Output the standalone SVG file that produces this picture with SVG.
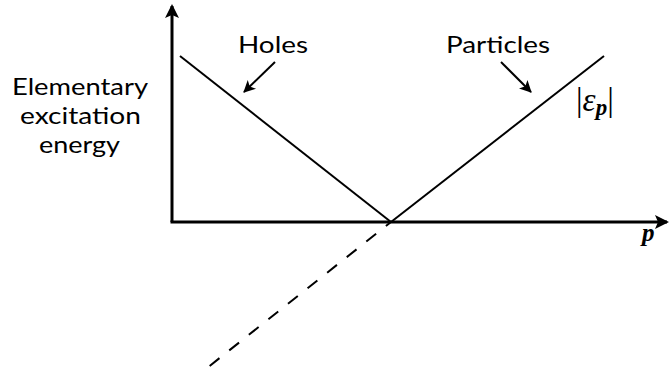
<svg xmlns="http://www.w3.org/2000/svg" width="671" height="374" viewBox="0 0 671 374">
<style>
.lbl{font-family:Lato,"Open Sans","Liberation Sans",sans-serif;font-size:24px;fill:#000}
.math{font-family:"Liberation Serif","DejaVu Serif",serif;fill:#000}
.ax{stroke:#000;stroke-width:3;fill:none}
.ln{stroke:#000;stroke-width:2;fill:none}
</style>
<defs>
<marker id="big" markerWidth="16" markerHeight="16" viewBox="-12 -8 16 16" refX="0" refY="0" orient="auto" markerUnits="userSpaceOnUse">
<path d="M2,0 L-12,-7 L-9,0 L-12,7 Z" fill="#000"/>
</marker>
<marker id="sm" markerWidth="14" markerHeight="14" viewBox="-11 -7 14 14" refX="0" refY="0" orient="auto" markerUnits="userSpaceOnUse">
<path d="M1,0 L-11,-6 L-8,0 L-11,6 Z" fill="#000"/>
</marker>
</defs>
<g id="connectors">
<path class="ax" d="M172,222 L172,6" marker-end="url(#big)"/>
<path class="ax" d="M170.5,222 L667,222" marker-end="url(#big)"/>
<path class="ln" d="M180,56 L391,222"/>
<path class="ln" d="M391,222 L604,56"/>
<path class="ln" d="M391,222 L202,372" stroke-dasharray="12.5 12.5" stroke-dashoffset="6"/>
<path class="ln" d="M275,62 L244,92" marker-end="url(#sm)"/>
<path class="ln" d="M501,62 L531,92" marker-end="url(#sm)"/>
</g>
<g id="ylabel">
<text class="lbl" x="12" y="95" textLength="136" lengthAdjust="spacingAndGlyphs">Elementary</text>
<text class="lbl" x="20" y="124" textLength="121" lengthAdjust="spacingAndGlyphs">excitation</text>
<text class="lbl" x="39" y="153" textLength="81" lengthAdjust="spacingAndGlyphs">energy</text>
</g>
<g id="holes"><text class="lbl" x="238" y="53" textLength="70" lengthAdjust="spacingAndGlyphs">Holes</text></g>
<g id="particles"><text class="lbl" x="446" y="53" textLength="104" lengthAdjust="spacingAndGlyphs">Particles</text></g>
<g id="eps"><text class="math" x="576" y="111" font-size="33">|<tspan font-style="italic">ε</tspan><tspan font-style="italic" font-weight="bold" font-size="23" dy="4">p</tspan><tspan dy="-4">|</tspan></text></g>
<g id="plabel"><text class="math" x="642" y="241" font-size="25" font-style="italic" font-weight="bold">p</text></g>
</svg>
